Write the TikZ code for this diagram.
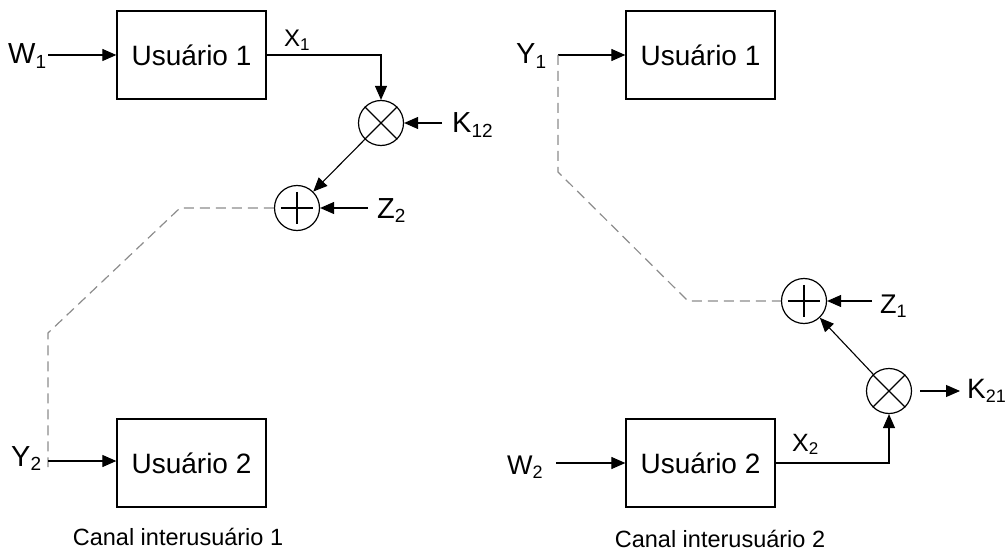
\documentclass[tikz,border=0pt]{standalone}
\usepackage{fontspec}
\setmainfont{Liberation Sans}
\usetikzlibrary{arrows.meta}
\newcommand{\lab}[4]{{\fontsize{#1}{#1}\selectfont #3\raisebox{-0.15em}{\fontsize{#2}{#2}\selectfont #4}}}
\begin{document}
\begin{tikzpicture}[x=1pt,y=-1pt,
 box/.style={draw,line width=1.3pt,minimum width=149pt,minimum height=88pt,inner sep=0pt,font=\fontsize{28}{28}\selectfont},
 op/.style={draw,circle,line width=1.2pt,minimum size=45pt,inner sep=0pt},
 arr/.style={line width=1.1pt,-{Triangle[length=14pt,width=12pt]}},
 ln/.style={line width=1.1pt},
 dsh/.style={line width=1.2pt,draw=black!45,dash pattern=on 10pt off 6pt},
 lbl/.style={inner sep=0pt,anchor=base west},
 capt/.style={inner sep=0pt,font=\fontsize{23.5}{23.5}\selectfont}]
\useasboundingbox (0,0) rectangle (1008,556);
% ---------- left: Canal interusuario 1
\node[box] (u1a) at (191.5,55) {Usuário 1};
\node[box] (u2a) at (191.5,463) {Usuário 2};
\node[op] (mul1) at (381,123) {};
\node[op] (add1) at (297,208) {};
\draw[ln] (mul1.north west) -- (mul1.south east);
\draw[ln] (mul1.north east) -- (mul1.south west);
\draw[ln] ([xshift=7pt]add1.west) -- ([xshift=-7pt]add1.east);
\draw[ln] ([yshift=-7pt]add1.north) -- ([yshift=7pt]add1.south);
\node[lbl] (w1) at (8,64) {\lab{29}{19}{W}{1}};
\node[lbl] (x1) at (284,47) {\lab{24}{17}{X}{1}};
\node[lbl] (k12) at (452,133) {\lab{29}{19}{K}{12}};
\node[lbl] (z2) at (377,218) {\lab{29}{19}{Z}{2}};
\node[lbl] (y2) at (11,466) {\lab{29}{19}{Y}{2}};
\coordinate (w1s) at (48,55);
\coordinate (k12s) at (442,123);
\coordinate (z2s) at (368,208);
\coordinate (y2s) at (48,461);
\coordinate (d1a) at (180,208);
\coordinate (d1b) at (48,333);
\draw[arr] (w1s) -- (u1a.west);
\draw[arr] (u1a.east) -| (mul1.north);
\draw[arr] (k12s) -- (mul1.east);
\draw[arr] (mul1) -- (add1);
\draw[arr] (z2s) -- (add1.east);
\draw[dsh] (add1.west) -- (d1a) -- (d1b) -- ([yshift=-6pt]y2s);
\draw[arr] (y2s) -- (y2s -| u2a.west);
\node[capt] (c1) at (178,537) {Canal interusuário 1};
% ---------- right: Canal interusuario 2
\node[box] (u1b) at (700.5,55) {Usuário 1};
\node[box] (u2b) at (700.5,463) {Usuário 2};
\node[op] (add2) at (804,301) {};
\node[op] (mul2) at (889,391) {};
\draw[ln] (mul2.north west) -- (mul2.south east);
\draw[ln] (mul2.north east) -- (mul2.south west);
\draw[ln] ([xshift=7pt]add2.west) -- ([xshift=-7pt]add2.east);
\draw[ln] ([yshift=-7pt]add2.north) -- ([yshift=7pt]add2.south);
\node[lbl] (y1) at (516,64) {\lab{29}{19}{Y}{1}};
\node[lbl] (z1) at (880,313) {\lab{27}{18}{Z}{1}};
\node[lbl] (k21) at (967,398) {\lab{28}{18}{K}{21}};
\node[lbl] (w2) at (507,474) {\lab{27}{18}{W}{2}};
\node[lbl] (x2) at (792,451) {\lab{25}{17}{X}{2}};
\coordinate (y1s) at (558,55);
\coordinate (z1s) at (872,301);
\coordinate (k21s) at (920,391);
\coordinate (k21e) at (960,391);
\coordinate (w2s) at (556,463);
\coordinate (d2a) at (558,172);
\coordinate (d2b) at (688,301);
\draw[arr] (y1s) -- (u1b.west);
\draw[dsh] (y1s) -- (d2a) -- (d2b) -- (add2.west);
\draw[arr] (z1s) -- (add2.east);
\draw[arr] (mul2) -- (add2);
\draw[arr] (k21s) -- (k21e);
\draw[arr] (w2s) -- (u2b.west);
\draw[arr] (u2b.east) -| (mul2.south);
\node[capt] (c2) at (720,539) {Canal interusuário 2};
\end{tikzpicture}
\end{document}
